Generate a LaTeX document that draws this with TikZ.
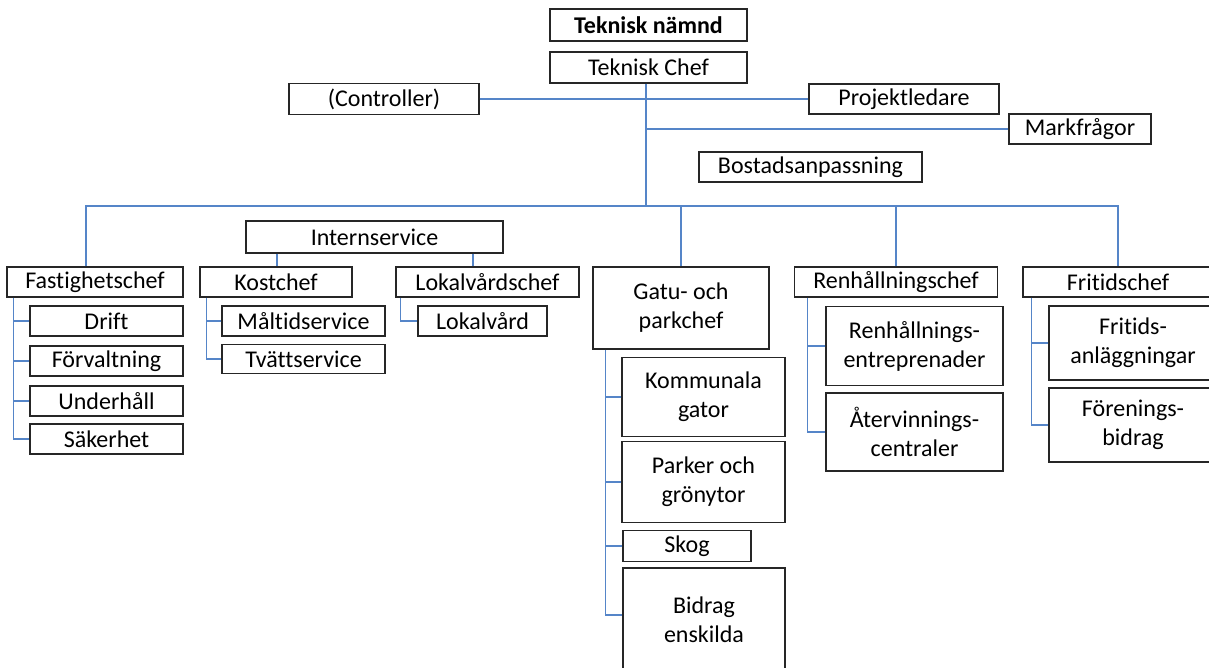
\documentclass[tikz,border=0pt]{standalone}
\usepackage{fontspec}
\setmainfont{Carlito}[Ligatures=NoCommon]
\definecolor{linkblue}{HTML}{5585C8}
\tikzset{
	unit/.style={draw=black!85, line width=1.2pt, inner sep=0pt, minimum height=30pt,
		align=center, font=\fontsize{24}{29}\selectfont},
	link/.style={draw=linkblue, line width=1.3pt}
}
\begin{document}
\begin{tikzpicture}[x=1pt,y=-1pt]
	\useasboundingbox (0,0) rectangle (1209,668);
	\node[unit, minimum width=197pt, minimum height=32pt] (tnamnd) at (648.5,25) {\textbf{Teknisk nämnd}};
	\node[unit, minimum width=197pt, minimum height=31pt] (tchef) at (648.5,67.5) {Teknisk Chef};
	\node[unit, minimum width=190pt, minimum height=31pt] (ctrl) at (384,99) {(Controller)};
	\node[unit, minimum width=190pt] (proj) at (904,99) {Projektledare};
	\node[unit, minimum width=142pt] (mark) at (1080,129) {Markfrågor};
	\node[unit, minimum width=223pt] (bost) at (810.5,167) {Bostadsanpassning};
	\node[unit, minimum width=257pt, minimum height=32pt] (intern) at (374.5,237) {Internservice};
	% chefer
	\node[unit, minimum width=176pt] (fast) at (95,282) {Fastighetschef};
	\node[unit, minimum width=152pt] (kost) at (276,282) {Kostchef};
	\node[unit, minimum width=183pt] (lokc) at (487.5,282) {Lokalvårdschef};
	\node[unit, minimum width=176pt, minimum height=82pt] (gatu) at (681,308) {Gatu- och\\parkchef};
	\node[unit, minimum width=203pt] (renc) at (896,282) {Renhållningschef};
	\node[unit, minimum width=190pt] (fric) at (1118,282) {Fritidschef};
	% enheter
	\node[unit, minimum width=153pt] (drift) at (106.5,321) {Drift};
	\node[unit, minimum width=153pt] (forv) at (106.5,361) {Förvaltning};
	\node[unit, minimum width=153pt] (unde) at (106.5,401) {Underhåll};
	\node[unit, minimum width=153pt] (sak) at (106.5,439) {Säkerhet};
	\node[unit, minimum width=163pt] (malt) at (303.5,321) {Måltidservice};
	\node[unit, minimum width=163pt, minimum height=29pt] (tvatt) at (303.5,359) {Tvättservice};
	\node[unit, minimum width=129pt] (lokv) at (482.5,321) {Lokalvård};
	\node[unit, minimum width=163pt, minimum height=79pt] (komm) at (703.5,397) {Kommunala\\gator};
	\node[unit, minimum width=163pt, minimum height=81pt] (park) at (703.5,482) {Parker och\\grönytor};
	\node[unit, minimum width=128pt, minimum height=31pt] (skog) at (687,546) {Skog};
	\node[unit, minimum width=162pt, minimum height=104pt] (bidr) at (704,620) {Bidrag\\enskilda};
	\node[unit, minimum width=177pt, minimum height=79pt] (rent) at (914.5,346) {Renhållnings-\\entreprenader};
	\node[unit, minimum width=177pt, minimum height=78pt] (ater) at (914.5,432) {Återvinnings-\\centraler};
	\node[unit, minimum width=168pt, minimum height=74pt] (fria) at (1133,343) {Fritids-\\anläggningar};
	\node[unit, minimum width=168pt, minimum height=74pt] (fore) at (1133,425) {Förenings-\\bidrag};

	\coordinate (bus) at (646,206);
	\draw[link] (tchef.south -| bus) -- (bus);
	\draw[link] (ctrl) -- (proj);
	\draw[link] (mark.west) -- (mark.west -| bus);
	\draw[link] ([xshift=-9pt]fast.north) |- (bus) -| (fric.north);
	\foreach \n in {gatu,renc} \draw[link] (\n.north) -- (\n.north |- bus);
	\coordinate (ik) at ([xshift=-97.5pt]intern.south);
	\coordinate (il) at ([xshift=98.5pt]intern.south);
	\draw[link] (ik) -- (ik |- kost.north);
	\draw[link] (il) -- (il |- lokc.north);

	\coordinate (fl) at ([xshift=7pt]fast.south west);
	\draw[link] (fl) |- (sak.west);
	\foreach \n in {drift,forv,unde} \draw[link] (\n.west) -- (\n.west -| fl);
	\coordinate (kl) at ([xshift=7pt]kost.south west);
	\draw[link] (kl) |- (tvatt.west);
	\draw[link] (malt.west) -- (malt.west -| kl);
	\coordinate (ll) at ([xshift=5pt]lokc.south west);
	\draw[link] (ll) |- (lokv.west);
	\coordinate (gl) at ([xshift=13pt]gatu.south west);
	\draw[link] (gl) |- ([yshift=5pt]bidr.west);
	\foreach \n in {komm,park,skog} \draw[link] (\n.west) -- (\n.west -| gl);
	\coordinate (rl) at ([xshift=13.5pt]renc.south west);
	\draw[link] (rl) |- (ater.west);
	\draw[link] (rent.west) -- (rent.west -| rl);
	\coordinate (fr) at ([xshift=9pt]fric.south west);
	\draw[link] (fr) |- (fore.west);
	\draw[link] (fria.west) -- (fria.west -| fr);
\end{tikzpicture}
\end{document}
